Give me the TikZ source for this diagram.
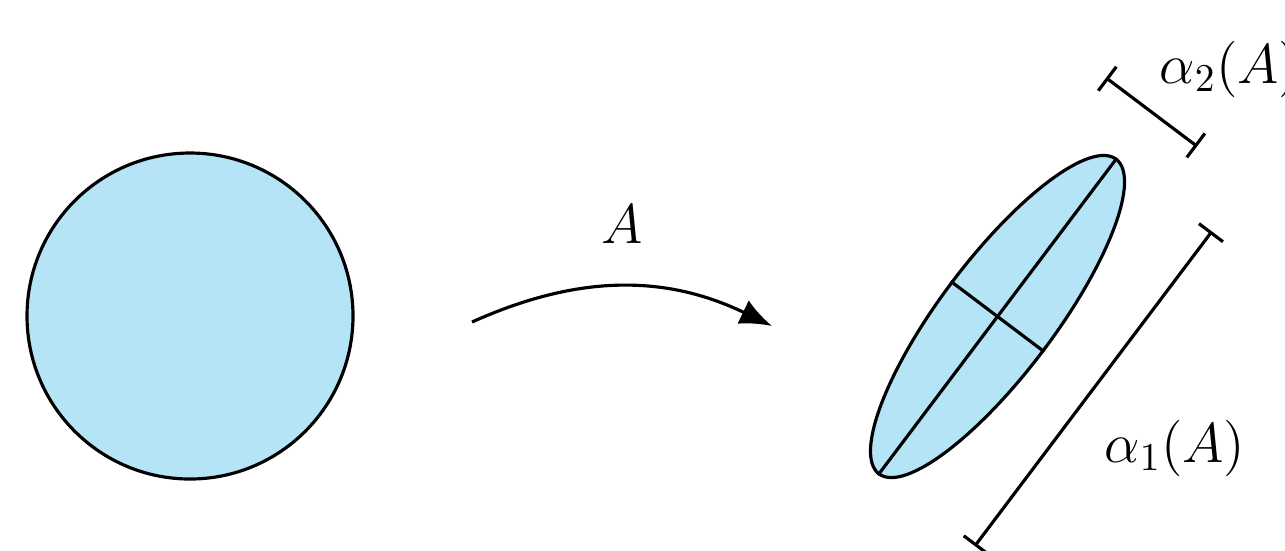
\RequirePackage{fix-cm}
\documentclass[tikz,border=0pt]{standalone}
\usepackage{amsmath,amssymb}
\usepackage{tikz}
\usetikzlibrary{arrows.meta,positioning,calc,shapes.geometric}
\usepackage{xcolor}
\definecolor{diskblue}{RGB}{180,228,246}

\begin{document}
\begin{tikzpicture}[>=Stealth,font=\fontsize{16}{19}\selectfont,
  shp/.style={draw,line width=0.9pt,fill=diskblue,inner sep=0pt},
  ax/.style={line width=0.9pt},
  bar/.style={line width=0.9pt,{Bar[width=3mm]}-{Bar[width=3mm]}},
  lbl/.style={inner sep=1pt}]

  % frame: 1 px = 0.01 cm
  \useasboundingbox (0,0) rectangle (12.85,-5.50);
  \clip (0,0) rectangle (12.85,-5.50);

  % unit disk
  \node[shp,circle,minimum size=3.26cm] (disk) at (1.90,-3.16) {};

  % the map
  \coordinate (src) at (4.72,-3.22);
  \coordinate (dst) at (7.72,-3.26);
  \draw[line width=0.9pt,-{Latex[length=3.2mm,width=2.6mm]}] (src) to[bend left=25]
    node[midway,above=0.38cm,lbl] (map) {$A$} (dst);

  % image ellipse with its axes
  \node[shp,ellipse,minimum width=3.94cm,minimum height=1.14cm,rotate=53] (img) at (9.975,-3.165) {};
  \draw[ax] (img.west) -- (img.east);
  \draw[ax] (img.north) -- (img.south);

  % semi-axis lengths
  \begin{scope}[shift={(img.center)},rotate=53]
    \coordinate (a1s) at (-1.97,-1.20);
    \coordinate (a1e) at (1.97,-1.20);
    \coordinate (a2s) at (2.56,0.57);
    \coordinate (a2e) at (2.56,-0.57);
  \end{scope}
  \draw[bar] (a1s) -- (a1e);
  \draw[bar] (a2s) -- (a2e);
  \node[lbl] (l1) at (11.75,-4.48) {$\alpha_1(A)$};
  \node[lbl] (l2) at (12.30,-0.69) {$\alpha_2(A)$};
\end{tikzpicture}
\end{document}
